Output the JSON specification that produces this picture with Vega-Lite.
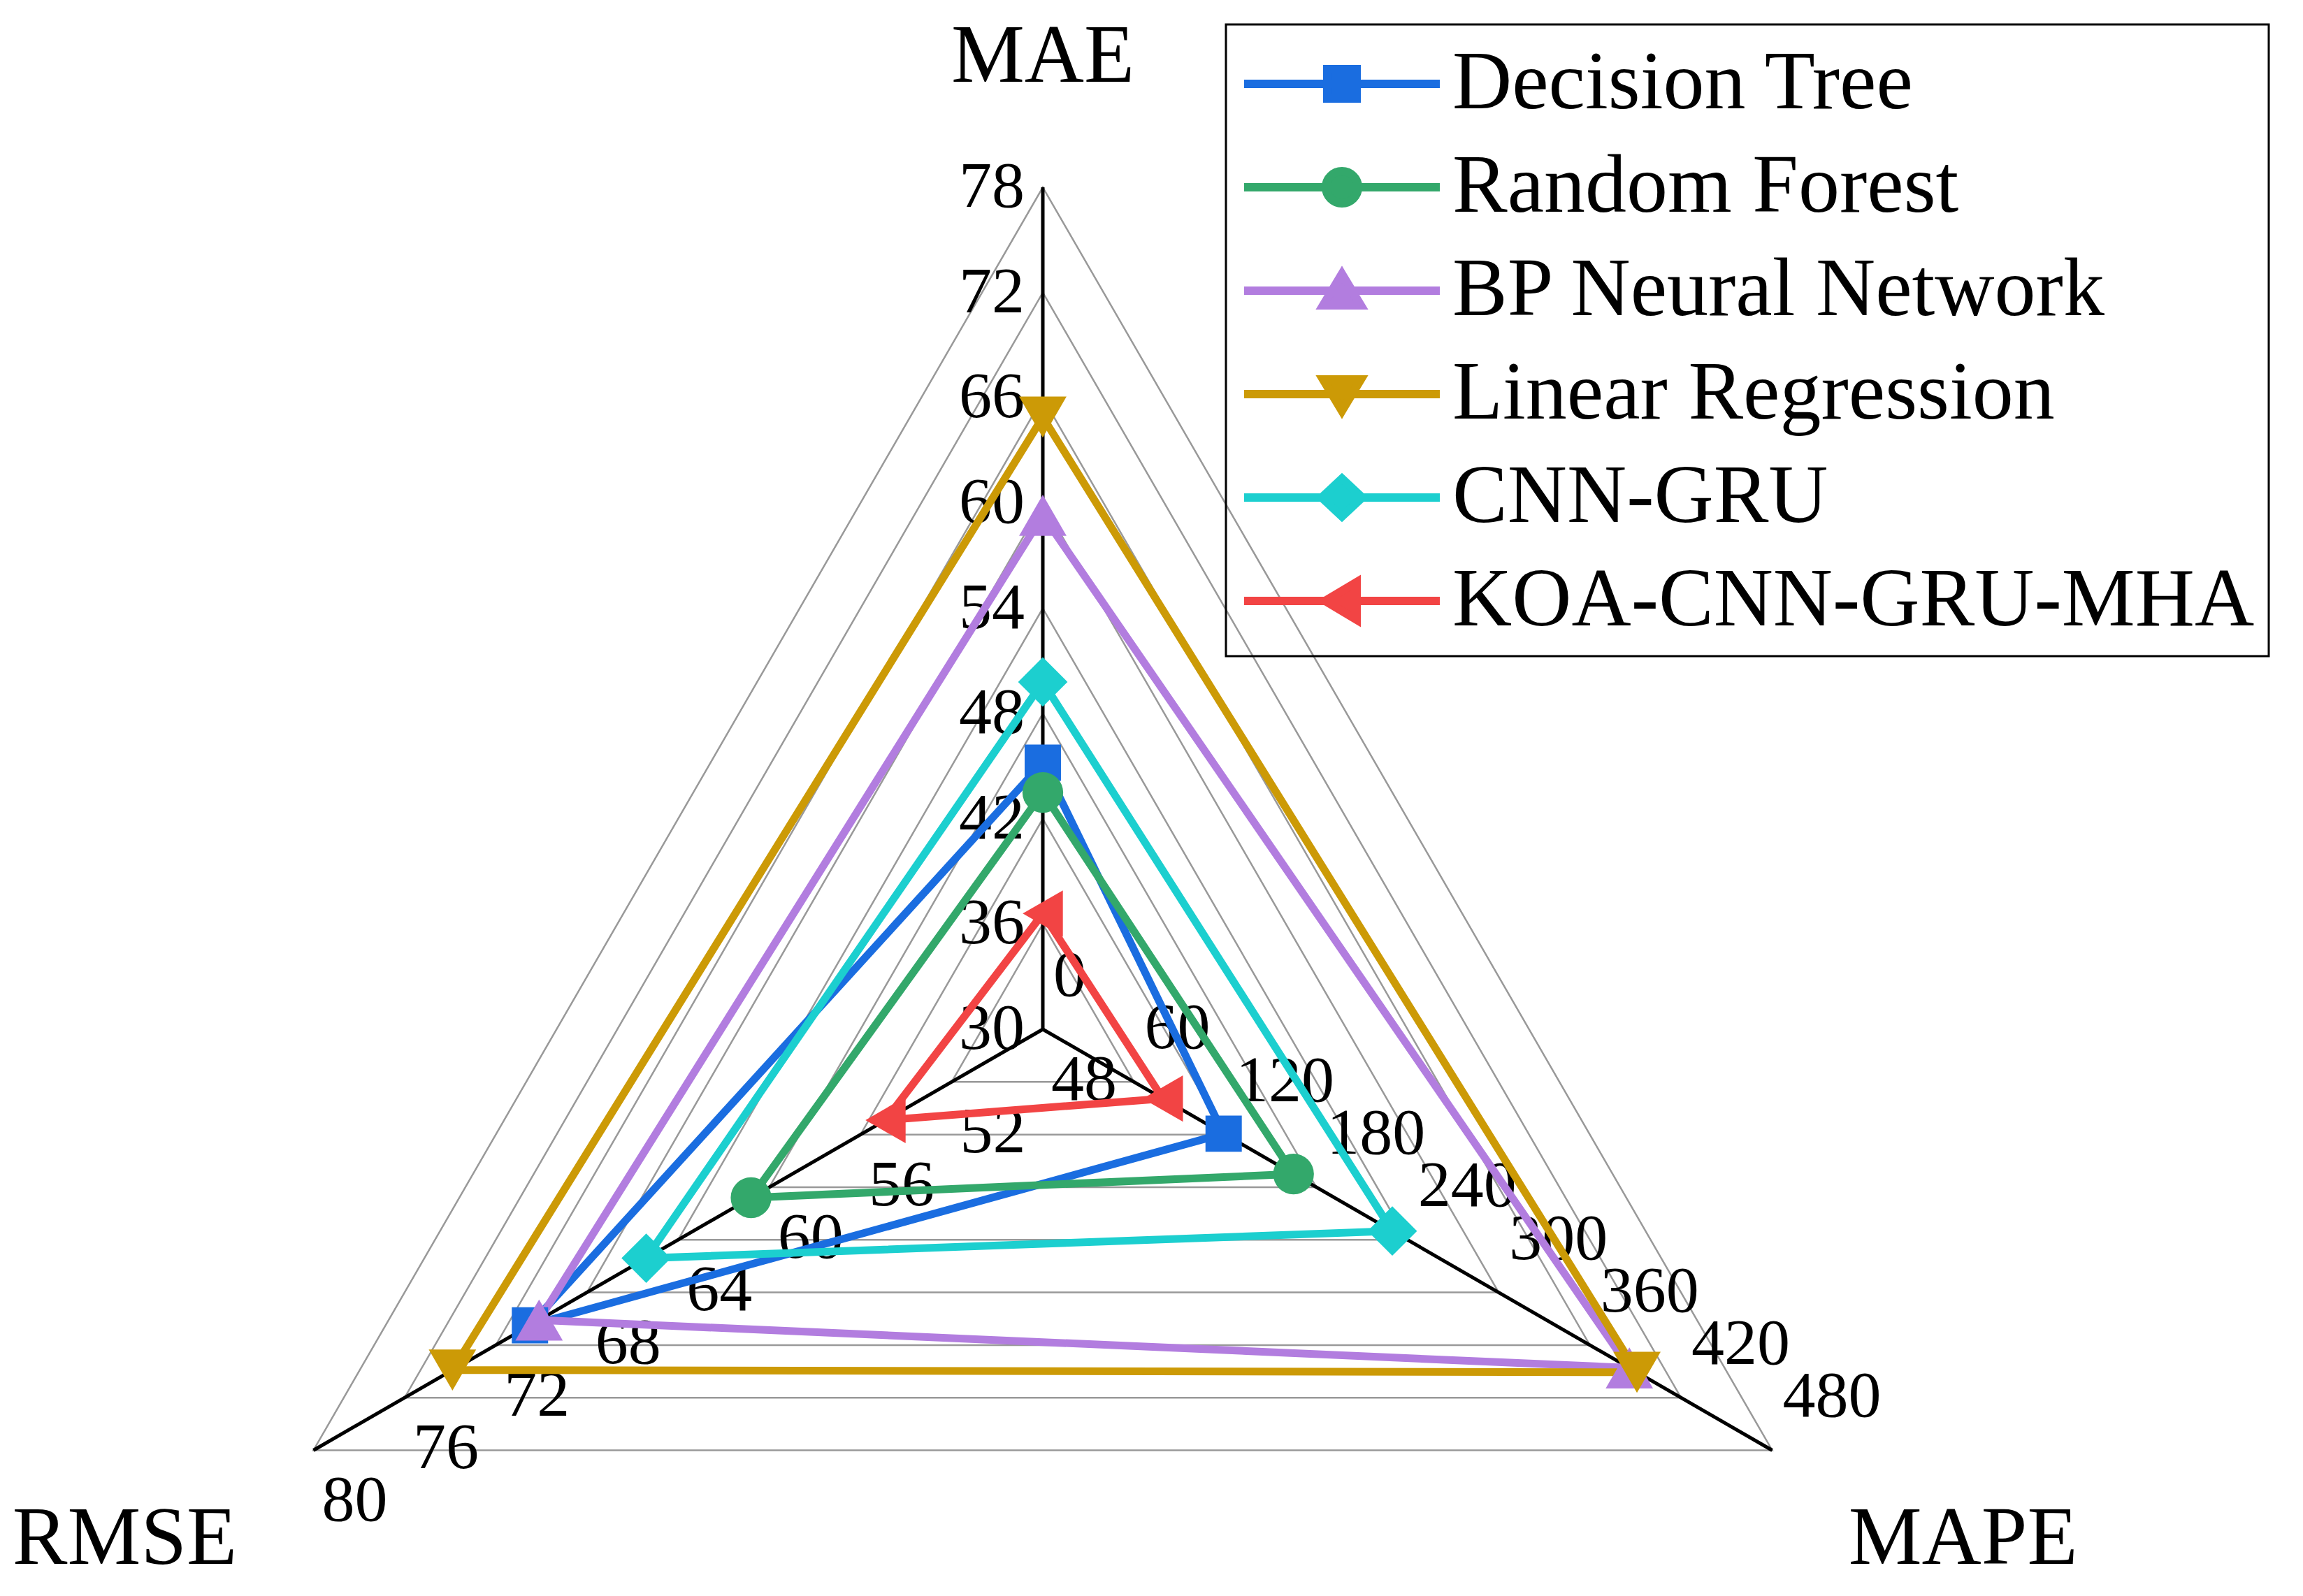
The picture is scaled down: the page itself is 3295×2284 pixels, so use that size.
{
  "$schema": "https://vega.github.io/schema/vega-lite/v6.json",
  "width": 3295,
  "height": 2284,
  "autosize": {"type": "none"},
  "padding": 0,
  "background": "white",
  "config": {"view": {"stroke": null}, "text": {"font": "Liberation Serif", "color": "black"}, "axis": {"disable": true}, "legend": {"strokeWidth": 3}},
  "datasets": {
    "series": [
      {"model": "Decision Tree", "metric": "MAE", "value": 45.2},
      {"model": "Decision Tree", "metric": "MAPE", "value": 119},
      {"model": "Decision Tree", "metric": "RMSE", "value": 70.5},
      {"model": "Random Forest", "metric": "MAE", "value": 43.5},
      {"model": "Random Forest", "metric": "MAPE", "value": 165},
      {"model": "Random Forest", "metric": "RMSE", "value": 60.8},
      {"model": "BP Neural Network", "metric": "MAE", "value": 59.3},
      {"model": "BP Neural Network", "metric": "MAPE", "value": 386},
      {"model": "BP Neural Network", "metric": "RMSE", "value": 70.1},
      {"model": "Linear Regression", "metric": "MAE", "value": 64.9},
      {"model": "Linear Regression", "metric": "MAPE", "value": 391},
      {"model": "Linear Regression", "metric": "RMSE", "value": 73.9},
      {"model": "CNN-GRU", "metric": "MAE", "value": 49.8},
      {"model": "CNN-GRU", "metric": "MAPE", "value": 230},
      {"model": "CNN-GRU", "metric": "RMSE", "value": 65.4},
      {"model": "KOA-CNN-GRU-MHA", "metric": "MAE", "value": 36.6},
      {"model": "KOA-CNN-GRU-MHA", "metric": "MAPE", "value": 79},
      {"model": "KOA-CNN-GRU-MHA", "metric": "RMSE", "value": 54.9}
    ],
    "ticks": [
      {"metric": "MAE", "value": 30}, {"metric": "MAE", "value": 36}, {"metric": "MAE", "value": 42},
      {"metric": "MAE", "value": 48}, {"metric": "MAE", "value": 54}, {"metric": "MAE", "value": 60},
      {"metric": "MAE", "value": 66}, {"metric": "MAE", "value": 72}, {"metric": "MAE", "value": 78},
      {"metric": "MAPE", "value": 0}, {"metric": "MAPE", "value": 60}, {"metric": "MAPE", "value": 120},
      {"metric": "MAPE", "value": 180}, {"metric": "MAPE", "value": 240}, {"metric": "MAPE", "value": 300},
      {"metric": "MAPE", "value": 360}, {"metric": "MAPE", "value": 420}, {"metric": "MAPE", "value": 480},
      {"metric": "RMSE", "value": 48}, {"metric": "RMSE", "value": 52}, {"metric": "RMSE", "value": 56},
      {"metric": "RMSE", "value": 60}, {"metric": "RMSE", "value": 64}, {"metric": "RMSE", "value": 68},
      {"metric": "RMSE", "value": 72}, {"metric": "RMSE", "value": 76}, {"metric": "RMSE", "value": 80}
    ],
    "axes": [{"metric": "MAE"}, {"metric": "MAPE"}, {"metric": "RMSE"}]
  },
  "layer": [
    {
      "data": {"name": "ticks"},
      "transform": [
        {"calculate": "datum.metric === 'MAE' ? (datum.value - 30) / 48 : datum.metric === 'MAPE' ? datum.value / 480 : (datum.value - 48) / 32", "as": "r"},
        {"calculate": "datum.metric === 'MAE' ? PI / 2 : datum.metric === 'MAPE' ? -PI / 6 : 7 * PI / 6", "as": "ang"},
        {"calculate": "datum.r * cos(datum.ang)", "as": "px"},
        {"calculate": "datum.r * sin(datum.ang)", "as": "py"},
        {"calculate": "datum.metric === 'MAE' ? 0 : datum.metric === 'MAPE' ? 1 : 2", "as": "ord"},
        {"calculate": "round(datum.r * 8)", "as": "level"},
        {"filter": "datum.level > 0"}
      ],
      "mark": {"type": "line", "interpolate": "linear-closed", "color": "#999999", "strokeWidth": 2.5},
      "encoding": {
        "x": {"field": "px", "type": "quantitative", "scale": {"domain": [-1.23817, 1.49627], "nice": false, "zero": false}, "axis": null},
        "y": {"field": "py", "type": "quantitative", "scale": {"domain": [-0.67303, 1.22241], "nice": false, "zero": false}, "axis": null},
        "detail": {"field": "level", "type": "nominal"},
        "order": {"field": "ord", "type": "quantitative"}
      }
    },
    {
      "data": {"name": "axes"},
      "transform": [
        {"calculate": "datum.metric === 'MAE' ? PI / 2 : datum.metric === 'MAPE' ? -PI / 6 : 7 * PI / 6", "as": "ang"},
        {"calculate": "cos(datum.ang)", "as": "px"},
        {"calculate": "sin(datum.ang)", "as": "py"},
        {"calculate": "0", "as": "cx"},
        {"calculate": "0", "as": "cy"}
      ],
      "mark": {"type": "rule", "color": "black", "strokeWidth": 5},
      "encoding": {
        "x": {"field": "cx", "type": "quantitative", "axis": null},
        "y": {"field": "cy", "type": "quantitative", "axis": null},
        "x2": {"field": "px"},
        "y2": {"field": "py"}
      }
    },
    {
      "data": {"name": "ticks"},
      "transform": [
        {"filter": "datum.metric === 'MAE'"},
        {"calculate": "(datum.value - 30) / 48", "as": "r"},
        {"calculate": "0", "as": "px"},
        {"calculate": "datum.r", "as": "py"}
      ],
      "mark": {"type": "text", "align": "right", "baseline": "middle", "dx": -26, "fontSize": 94},
      "encoding": {
        "x": {"field": "px", "type": "quantitative", "axis": null},
        "y": {"field": "py", "type": "quantitative", "axis": null},
        "text": {"field": "value", "type": "quantitative"}
      }
    },
    {
      "data": {"name": "ticks"},
      "transform": [
        {"filter": "datum.metric === 'MAPE'"},
        {"calculate": "datum.value / 480", "as": "r"},
        {"calculate": "datum.r * cos(-PI / 6)", "as": "px"},
        {"calculate": "datum.r * sin(-PI / 6)", "as": "py"}
      ],
      "mark": {"type": "text", "align": "left", "baseline": "middle", "dx": 15, "dy": -76, "fontSize": 94},
      "encoding": {
        "x": {"field": "px", "type": "quantitative", "axis": null},
        "y": {"field": "py", "type": "quantitative", "axis": null},
        "text": {"field": "value", "type": "quantitative"}
      }
    },
    {
      "data": {"name": "ticks"},
      "transform": [
        {"filter": "datum.metric === 'RMSE'"},
        {"calculate": "(datum.value - 48) / 32", "as": "r"},
        {"calculate": "datum.r * cos(7 * PI / 6)", "as": "px"},
        {"calculate": "datum.r * sin(7 * PI / 6)", "as": "py"}
      ],
      "mark": {"type": "text", "align": "center", "baseline": "middle", "dx": 59, "dy": 73, "fontSize": 94},
      "encoding": {
        "x": {"field": "px", "type": "quantitative", "axis": null},
        "y": {"field": "py", "type": "quantitative", "axis": null},
        "text": {"field": "value", "type": "quantitative"}
      }
    },
    {
      "data": {"name": "axes"},
      "transform": [
        {"filter": "datum.metric === 'MAE'"},
        {"calculate": "0", "as": "px"},
        {"calculate": "1", "as": "py"}
      ],
      "mark": {"type": "text", "align": "center", "baseline": "middle", "dy": -186, "fontSize": 118},
      "encoding": {
        "x": {"field": "px", "type": "quantitative", "axis": null},
        "y": {"field": "py", "type": "quantitative", "axis": null},
        "text": {"field": "metric", "type": "nominal"}
      }
    },
    {
      "data": {"name": "axes"},
      "transform": [
        {"filter": "datum.metric === 'RMSE'"},
        {"calculate": "cos(7 * PI / 6)", "as": "px"},
        {"calculate": "sin(7 * PI / 6)", "as": "py"}
      ],
      "mark": {"type": "text", "align": "center", "baseline": "middle", "dx": -270, "dy": 128, "fontSize": 118},
      "encoding": {
        "x": {"field": "px", "type": "quantitative", "axis": null},
        "y": {"field": "py", "type": "quantitative", "axis": null},
        "text": {"field": "metric", "type": "nominal"}
      }
    },
    {
      "data": {"name": "axes"},
      "transform": [
        {"filter": "datum.metric === 'MAPE'"},
        {"calculate": "cos(-PI / 6)", "as": "px"},
        {"calculate": "sin(-PI / 6)", "as": "py"}
      ],
      "mark": {"type": "text", "align": "center", "baseline": "middle", "dx": 273, "dy": 128, "fontSize": 118},
      "encoding": {
        "x": {"field": "px", "type": "quantitative", "axis": null},
        "y": {"field": "py", "type": "quantitative", "axis": null},
        "text": {"field": "metric", "type": "nominal"}
      }
    },
    {
      "data": {"name": "series"},
      "transform": [
        {"calculate": "datum.metric === 'MAE' ? (datum.value - 30) / 48 : datum.metric === 'MAPE' ? datum.value / 480 : (datum.value - 48) / 32", "as": "r"},
        {"calculate": "datum.metric === 'MAE' ? PI / 2 : datum.metric === 'MAPE' ? -PI / 6 : 7 * PI / 6", "as": "ang"},
        {"calculate": "datum.r * cos(datum.ang)", "as": "px"},
        {"calculate": "datum.r * sin(datum.ang)", "as": "py"},
        {"calculate": "datum.metric === 'MAE' ? 0 : datum.metric === 'MAPE' ? 1 : 2", "as": "ord"}
      ],
      "mark": {"type": "line", "interpolate": "linear-closed", "strokeWidth": 11},
      "encoding": {
        "x": {"field": "px", "type": "quantitative", "axis": null},
        "y": {"field": "py", "type": "quantitative", "axis": null},
        "color": {
          "field": "model", "type": "nominal",
          "scale": {
            "domain": ["KOA-CNN-GRU-MHA", "CNN-GRU", "Linear Regression", "BP Neural Network", "Random Forest", "Decision Tree"],
            "range": ["#f24444", "#1ccfcf", "#cc9a06", "#b27ddf", "#33a86b", "#1a6de0"]
          },
          "legend": null
        },
        "order": {"field": "ord", "type": "quantitative"}
      }
    },
    {
      "data": {"name": "series"},
      "transform": [
        {"filter": "datum.model === 'Decision Tree'"},
        {"calculate": "datum.metric === 'MAE' ? (datum.value - 30) / 48 : datum.metric === 'MAPE' ? datum.value / 480 : (datum.value - 48) / 32", "as": "r"},
        {"calculate": "datum.metric === 'MAE' ? PI / 2 : datum.metric === 'MAPE' ? -PI / 6 : 7 * PI / 6", "as": "ang"},
        {"calculate": "datum.r * cos(datum.ang)", "as": "px"},
        {"calculate": "datum.r * sin(datum.ang)", "as": "py"}
      ],
      "mark": {"type": "point", "filled": true, "opacity": 1, "shape": "square", "size": 2700},
      "encoding": {
        "x": {"field": "px", "type": "quantitative", "axis": null},
        "y": {"field": "py", "type": "quantitative", "axis": null},
        "color": {"field": "model", "type": "nominal", "legend": null}
      }
    },
    {
      "data": {"name": "series"},
      "transform": [
        {"filter": "datum.model === 'Random Forest'"},
        {"calculate": "datum.metric === 'MAE' ? (datum.value - 30) / 48 : datum.metric === 'MAPE' ? datum.value / 480 : (datum.value - 48) / 32", "as": "r"},
        {"calculate": "datum.metric === 'MAE' ? PI / 2 : datum.metric === 'MAPE' ? -PI / 6 : 7 * PI / 6", "as": "ang"},
        {"calculate": "datum.r * cos(datum.ang)", "as": "px"},
        {"calculate": "datum.r * sin(datum.ang)", "as": "py"}
      ],
      "mark": {"type": "point", "filled": true, "opacity": 1, "shape": "circle", "size": 3400},
      "encoding": {
        "x": {"field": "px", "type": "quantitative", "axis": null},
        "y": {"field": "py", "type": "quantitative", "axis": null},
        "color": {"field": "model", "type": "nominal", "legend": null}
      }
    },
    {
      "data": {"name": "series"},
      "transform": [
        {"filter": "datum.model === 'BP Neural Network'"},
        {"calculate": "datum.metric === 'MAE' ? (datum.value - 30) / 48 : datum.metric === 'MAPE' ? datum.value / 480 : (datum.value - 48) / 32", "as": "r"},
        {"calculate": "datum.metric === 'MAE' ? PI / 2 : datum.metric === 'MAPE' ? -PI / 6 : 7 * PI / 6", "as": "ang"},
        {"calculate": "datum.r * cos(datum.ang)", "as": "px"},
        {"calculate": "datum.r * sin(datum.ang)", "as": "py"}
      ],
      "mark": {"type": "point", "filled": true, "opacity": 1, "shape": "triangle-up", "size": 4600},
      "encoding": {
        "x": {"field": "px", "type": "quantitative", "axis": null},
        "y": {"field": "py", "type": "quantitative", "axis": null},
        "color": {"field": "model", "type": "nominal", "legend": null}
      }
    },
    {
      "data": {"name": "series"},
      "transform": [
        {"filter": "datum.model === 'Linear Regression'"},
        {"calculate": "datum.metric === 'MAE' ? (datum.value - 30) / 48 : datum.metric === 'MAPE' ? datum.value / 480 : (datum.value - 48) / 32", "as": "r"},
        {"calculate": "datum.metric === 'MAE' ? PI / 2 : datum.metric === 'MAPE' ? -PI / 6 : 7 * PI / 6", "as": "ang"},
        {"calculate": "datum.r * cos(datum.ang)", "as": "px"},
        {"calculate": "datum.r * sin(datum.ang)", "as": "py"}
      ],
      "mark": {"type": "point", "filled": true, "opacity": 1, "shape": "triangle-down", "size": 4600},
      "encoding": {
        "x": {"field": "px", "type": "quantitative", "axis": null},
        "y": {"field": "py", "type": "quantitative", "axis": null},
        "color": {"field": "model", "type": "nominal", "legend": null}
      }
    },
    {
      "data": {"name": "series"},
      "transform": [
        {"filter": "datum.model === 'CNN-GRU'"},
        {"calculate": "datum.metric === 'MAE' ? (datum.value - 30) / 48 : datum.metric === 'MAPE' ? datum.value / 480 : (datum.value - 48) / 32", "as": "r"},
        {"calculate": "datum.metric === 'MAE' ? PI / 2 : datum.metric === 'MAPE' ? -PI / 6 : 7 * PI / 6", "as": "ang"},
        {"calculate": "datum.r * cos(datum.ang)", "as": "px"},
        {"calculate": "datum.r * sin(datum.ang)", "as": "py"}
      ],
      "mark": {"type": "point", "filled": true, "opacity": 1, "shape": "diamond", "size": 5000},
      "encoding": {
        "x": {"field": "px", "type": "quantitative", "axis": null},
        "y": {"field": "py", "type": "quantitative", "axis": null},
        "color": {"field": "model", "type": "nominal", "legend": null}
      }
    },
    {
      "data": {"name": "series"},
      "transform": [
        {"filter": "datum.model === 'KOA-CNN-GRU-MHA'"},
        {"calculate": "datum.metric === 'MAE' ? (datum.value - 30) / 48 : datum.metric === 'MAPE' ? datum.value / 480 : (datum.value - 48) / 32", "as": "r"},
        {"calculate": "datum.metric === 'MAE' ? PI / 2 : datum.metric === 'MAPE' ? -PI / 6 : 7 * PI / 6", "as": "ang"},
        {"calculate": "datum.r * cos(datum.ang)", "as": "px"},
        {"calculate": "datum.r * sin(datum.ang)", "as": "py"}
      ],
      "mark": {"type": "point", "filled": true, "opacity": 1, "shape": "triangle-left", "size": 4400},
      "encoding": {
        "x": {"field": "px", "type": "quantitative", "axis": null},
        "y": {"field": "py", "type": "quantitative", "axis": null},
        "color": {"field": "model", "type": "nominal", "legend": null}
      }
    },
    {
      "data": {"name": "series"},
      "transform": [
        {"calculate": "datum.metric === 'MAE' ? (datum.value - 30) / 48 : datum.metric === 'MAPE' ? datum.value / 480 : (datum.value - 48) / 32", "as": "r"},
        {"calculate": "datum.metric === 'MAE' ? PI / 2 : datum.metric === 'MAPE' ? -PI / 6 : 7 * PI / 6", "as": "ang"},
        {"calculate": "datum.r * cos(datum.ang)", "as": "px"},
        {"calculate": "datum.r * sin(datum.ang)", "as": "py"}
      ],
      "mark": {"type": "point", "filled": true, "opacity": 0},
      "encoding": {
        "x": {"field": "px", "type": "quantitative", "axis": null},
        "y": {"field": "py", "type": "quantitative", "axis": null},
        "fill": {
          "field": "model", "type": "nominal",
          "scale": {
            "domain": ["Decision Tree", "Random Forest", "BP Neural Network", "Linear Regression", "CNN-GRU", "KOA-CNN-GRU-MHA"],
            "range": ["#1a6de0", "#33a86b", "#b27ddf", "#cc9a06", "#1ccfcf", "#f24444"]
          },
          "legend": {
            "orient": "none", "legendX": 1754, "legendY": 35, "title": null,
            "labelFont": "Liberation Serif", "labelFontSize": 118, "labelColor": "black", "labelLimit": 3000,
            "labelOffset": 93, "symbolOffset": 81, "symbolSize": 13924, "symbolStrokeWidth": 12, "symbolOpacity": 1,
            "rowPadding": 24, "padding": 20, "strokeColor": "black"
          }
        },
        "stroke": {
          "field": "model", "type": "nominal",
          "scale": {
            "domain": ["Decision Tree", "Random Forest", "BP Neural Network", "Linear Regression", "CNN-GRU", "KOA-CNN-GRU-MHA"],
            "range": ["#1a6de0", "#33a86b", "#b27ddf", "#cc9a06", "#1ccfcf", "#f24444"]
          },
          "legend": {
            "orient": "none", "legendX": 1754, "legendY": 35, "title": null,
            "labelFont": "Liberation Serif", "labelFontSize": 118, "labelColor": "black", "labelLimit": 3000,
            "labelOffset": 93, "symbolOffset": 81, "symbolSize": 13924, "symbolStrokeWidth": 12, "symbolOpacity": 1,
            "rowPadding": 24, "padding": 20, "strokeColor": "black"
          }
        },
        "shape": {
          "field": "model", "type": "nominal",
          "scale": {
            "domain": ["Decision Tree", "Random Forest", "BP Neural Network", "Linear Regression", "CNN-GRU", "KOA-CNN-GRU-MHA"],
            "range": [
              "M-2.373,0H2.373M-0.356,-0.356H0.356V0.356H-0.356Z",
              "M-2.373,0H2.373M-0.39,0A0.39,0.39,0,1,0,0.39,0A0.39,0.39,0,1,0,-0.39,0Z",
              "M-2.373,0H2.373M0,-0.407L0.458,0.356H-0.458Z",
              "M-2.373,0H2.373M0,0.407L0.458,-0.356H-0.458Z",
              "M-2.373,0H2.373M0,-0.458L0.49,0L0,0.458L-0.49,0Z",
              "M-2.373,0H2.373M-0.407,0L0.356,-0.458V0.458Z"
            ]
          },
          "legend": {
            "orient": "none", "legendX": 1754, "legendY": 35, "title": null,
            "labelFont": "Liberation Serif", "labelFontSize": 118, "labelColor": "black", "labelLimit": 3000,
            "labelOffset": 93, "symbolOffset": 81, "symbolSize": 13924, "symbolStrokeWidth": 12, "symbolOpacity": 1,
            "rowPadding": 24, "padding": 20, "strokeColor": "black"
          }
        }
      }
    }
  ]
}
